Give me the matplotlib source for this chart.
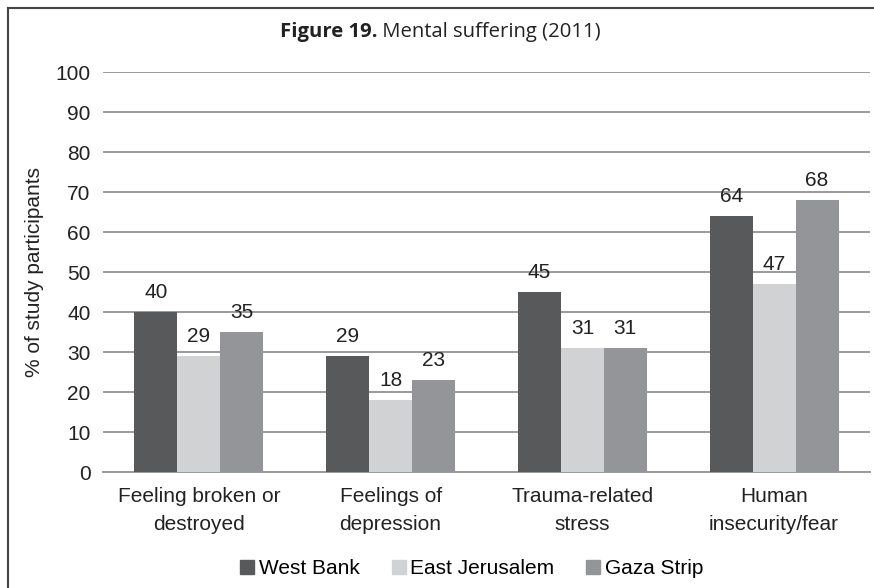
import matplotlib
matplotlib.use("Agg")
import matplotlib.pyplot as plt
from matplotlib.lines import Line2D
import numpy as np

categories = ["Feeling broken or\ndestroyed", "Feelings of\ndepression",
              "Trauma-related\nstress", "Human\ninsecurity/fear"]
series_names = ["West Bank", "East Jerusalem", "Gaza Strip"]
west_bank = [40, 29, 45, 64]
east_jerusalem = [29, 18, 31, 47]
gaza_strip = [35, 23, 31, 68]
yticks = [0, 10, 20, 30, 40, 50, 60, 70, 80, 90, 100]

colors = ["#58595b", "#d1d2d4", "#939598"]
label_font = "Liberation Sans"
text_color = "#222222"
fs = 15

fig = plt.figure(figsize=(8.74, 5.88), dpi=100)
ax = fig.add_axes([103 / 874, 1 - 472 / 588, 767 / 874, 400 / 588])

x = np.arange(len(categories))
width = 0.224
for i, (vals, name) in enumerate(zip([west_bank, east_jerusalem, gaza_strip], series_names)):
    pos = x + (i - 1) * width
    bars = ax.bar(pos, vals, width, color=colors[i], label=name, zorder=3)
    for b, v in zip(bars, vals):
        ax.text(b.get_x() + b.get_width() / 2, v + 2.6, str(v), ha="center", va="bottom",
                fontsize=fs, family=label_font, color=text_color, zorder=4)

ax.set_xlim(-0.5, len(categories) - 0.5)
ax.set_ylim(0, 100)
ax.set_yticks(yticks)
ax.set_yticklabels([str(t) for t in yticks], fontsize=fs, family=label_font, color=text_color)
ax.set_xticks(x)
ax.set_xticklabels(categories, fontsize=fs, family=label_font, color=text_color, linespacing=1.55)
ax.tick_params(axis="y", length=0, pad=9)
ax.tick_params(axis="x", length=0, pad=11)
ax.grid(axis="y", color="#9a9a9a", linewidth=1.4, zorder=0)
for s in ["top", "right", "left"]:
    ax.spines[s].set_visible(False)
ax.spines["bottom"].set_color("#9a9a9a")
ax.spines["bottom"].set_linewidth(1.4)
ax.set_ylabel("% of study participants", fontsize=15, family=label_font, color=text_color, labelpad=8)

# Title with bold figure number
title_y = 1 - 32 / 588
fig.text(377 / 874, title_y, "Figure 19.", ha="right", va="center",
         fontsize=14.6, family="Open Sans", fontweight="bold", color=text_color)
fig.text(377 / 874, title_y, " Mental suffering (2011)", ha="left", va="center",
         fontsize=14.6, family="Open Sans", color=text_color)

# Legend
handles = [Line2D([], [], marker="s", linestyle="none", markersize=10,
                  markerfacecolor=c, markeredgecolor=c) for c in colors]
fig.legend(handles, series_names, loc="center", bbox_to_anchor=(470 / 874, 1 - 569 / 588),
           ncol=3, frameon=False, prop={"family": label_font, "size": fs},
           handletextpad=0.05, columnspacing=1.37, handlelength=1.0)

# Outer frame (left and top edges)
fig.add_artist(Line2D([8 / 874, 8 / 874], [0, 1 - 8 / 588], transform=fig.transFigure,
                      color="#444444", linewidth=1.5))
fig.add_artist(Line2D([8 / 874, 1], [1 - 8 / 588, 1 - 8 / 588], transform=fig.transFigure,
                      color="#444444", linewidth=1.5))

fig.savefig("out.png", dpi=100)
